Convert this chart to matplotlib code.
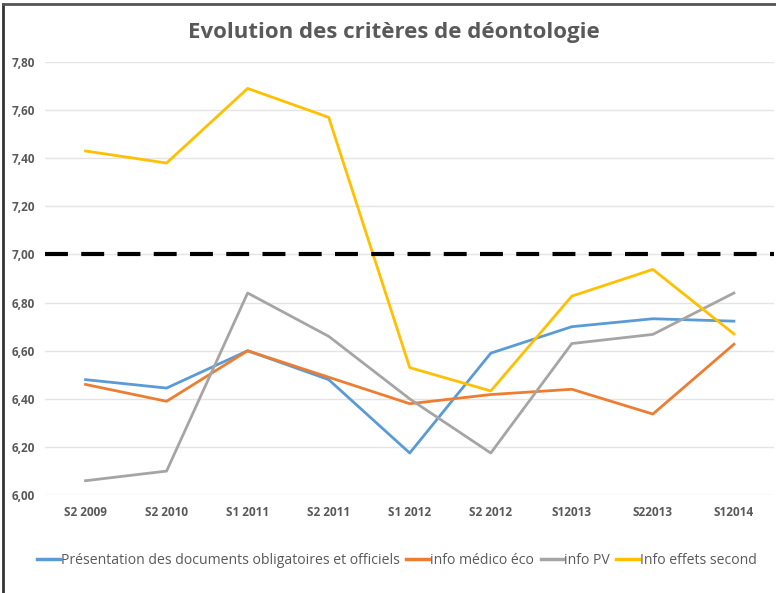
import matplotlib
matplotlib.use('Agg')
import matplotlib.pyplot as plt
from matplotlib.lines import Line2D
from matplotlib.ticker import FuncFormatter

plt.rcParams['font.family'] = ['Open Sans', 'DejaVu Sans']

periodes = ['S2 2009', 'S2 2010', 'S1 2011', 'S2 2011', 'S1 2012',
            'S2 2012', 'S12013', 'S22013', 'S12014']
presentation = [6.48, 6.445, 6.60, 6.48, 6.175, 6.59, 6.70, 6.733, 6.723]
medico_eco = [6.46, 6.39, 6.60, 6.49, 6.38, 6.418, 6.44, 6.337, 6.627]
info_pv = [6.06, 6.10, 6.84, 6.66, 6.40, 6.175, 6.63, 6.668, 6.84]
effets_second = [7.43, 7.38, 7.69, 7.57, 6.53, 6.433, 6.827, 6.938, 6.67]
seuil = 7.00

noms = ['Présentation des documents obligatoires et officiels',
        'info médico éco', 'info PV', 'Info effets second']
couleurs = ['#5b9bd5', '#ed7d31', '#a5a5a5', '#ffc000']
yticks = [6.0, 6.2, 6.4, 6.6, 6.8, 7.0, 7.2, 7.4, 7.6, 7.8]

fig = plt.figure(figsize=(7.76, 5.93), dpi=100)
ax = fig.add_axes([0.058, 0.165, 0.94, 0.7305])

x = list(range(len(periodes)))
for serie, nom, c in zip([presentation, medico_eco, info_pv, effets_second], noms, couleurs):
    ax.plot(x, serie, color=c, lw=2.0, label=nom, zorder=3)

ax.axhline(seuil, color='black', lw=3, dashes=(5.5, 3.2), zorder=4)

ax.set_xlim(-0.5, len(periodes) - 0.5)
ax.set_ylim(6.0, 7.8)
ax.set_yticks(yticks)
ax.yaxis.set_major_formatter(FuncFormatter(lambda v, p: ('%.2f' % v).replace('.', ',')))
ax.set_xticks(x)
ax.set_xticklabels(periodes)
ax.grid(axis='y', color='#e4e4e4', lw=1)
ax.set_axisbelow(True)
for s in ax.spines.values():
    s.set_visible(False)
ax.tick_params(length=0, labelsize=8.5, labelcolor='#595959')
ax.tick_params(axis='x', pad=8)
ax.tick_params(axis='y', pad=7)
for t in ax.get_xticklabels() + ax.get_yticklabels():
    t.set_fontweight('bold')

fig.text(0.508, 0.946, 'Evolution des critères de déontologie', ha='center', va='center',
         fontsize=16, fontweight='bold', color='#595959')

handles = [Line2D([], [], color=c, lw=2.5) for c in couleurs]
fig.legend(handles, noms, loc='center', bbox_to_anchor=(0.512, 0.055), ncol=4,
           frameon=False, fontsize=10.1, labelcolor='#595959', handlelength=1.6,
           handletextpad=0.1, columnspacing=0.45)

# cadre en haut et a gauche
fig.add_artist(Line2D([0.004, 0.004], [0, 0.993], color='#333333', lw=2, transform=fig.transFigure))
fig.add_artist(Line2D([0.004, 1], [0.993, 0.993], color='#555555', lw=2, transform=fig.transFigure))

fig.savefig('out.png', dpi=100)
